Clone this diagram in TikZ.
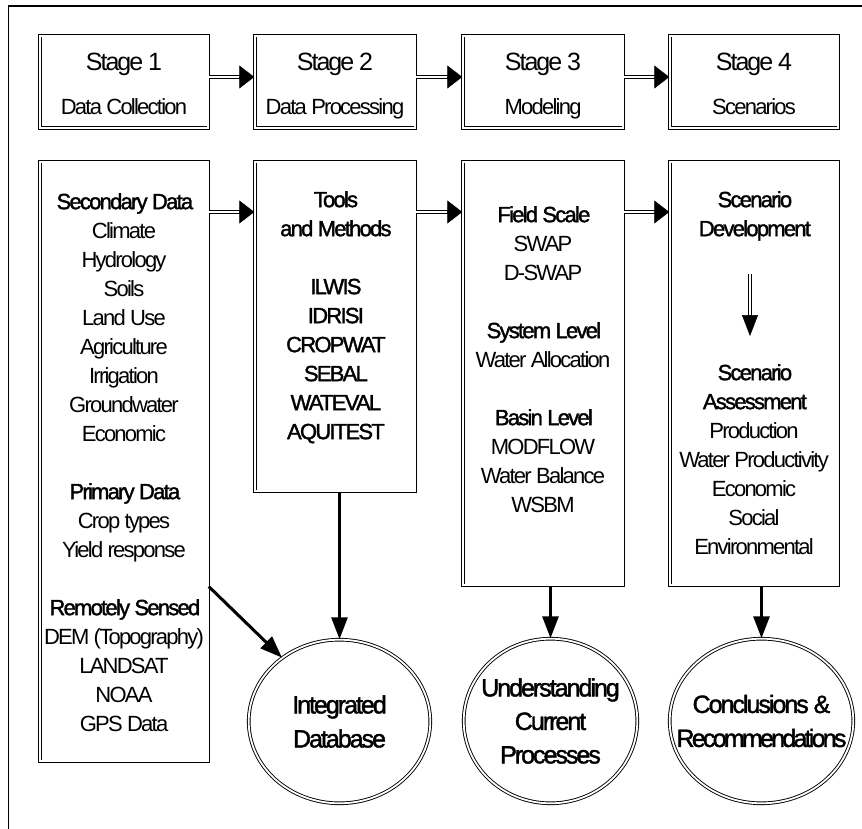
\documentclass[tikz,border=0pt]{standalone}
\usepackage{fontspec}
\setmainfont{Liberation Sans}[LetterSpace=-8, BoldFont={Liberation Sans}, BoldFeatures={FakeBold=1.6}]
\usetikzlibrary{shapes.geometric,arrows.meta,calc}
\begin{document}
\begin{tikzpicture}[x=1pt,y=-1pt,
  dbox/.style={draw, rectangle, double, double distance=1.8pt, line width=0.9pt, inner sep=0pt},
  ell/.style={draw, ellipse, double, double distance=1.8pt, line width=0.9pt, inner sep=0pt},
  stt/.style={anchor=base, inner sep=0pt, font=\fontsize{25}{30}\selectfont},
  sub/.style={anchor=base, inner sep=0pt, font=\fontsize{22}{26}\selectfont},
  btext/.style={anchor=north, align=center, inner sep=0pt, font=\fontsize{22}{29}\selectfont},
  etext/.style={align=center, inner sep=0pt, font=\bfseries\fontsize{25}{34}\selectfont},
  dshaft/.style={double, double distance=1.8pt, line width=0.9pt},
  dtip/.style={-{Triangle[length=15pt,width=23pt]}, line width=0.5pt},
  vtip/.style={-{Triangle[length=21pt,width=16pt]}, line width=0.5pt},
  tarrow/.style={line width=3pt, -{Triangle[length=22pt,width=16pt]}}
]
\useasboundingbox (0,0) rectangle (862,829);
% outer frame
\draw[line width=1.8pt] (862,6) -- (8.5,6) -- (8.5,829);

% stage boxes
\node[dbox, minimum width=168.6pt, minimum height=92.6pt] (s1) at (124,82) {};
\node[dbox, minimum width=160.6pt, minimum height=92.6pt] (s2) at (335,82) {};
\node[dbox, minimum width=160.6pt, minimum height=92.6pt] (s3) at (543,82) {};
\node[dbox, minimum width=168.6pt, minimum height=92.6pt] (s4) at (754,82) {};

\node[stt] (t1) at (124,71) {Stage 1};
\node[sub] (u1) at (124,115) {Data Collection};
\node[stt] (t2) at (335,71) {Stage 2};
\node[sub] (u2) at (335,115) {Data Processing};
\node[stt] (t3) at (543,71) {Stage 3};
\node[sub] (u3) at (543,115) {Modeling};
\node[stt] (t4) at (754,71) {Stage 4};
\node[sub] (u4) at (754,115) {Scenarios};

% lower boxes
\node[dbox, minimum width=168.6pt, minimum height=599.6pt] (b1) at (124,461.5) {};
\node[dbox, minimum width=160.6pt, minimum height=329.6pt] (b2) at (335,326.5) {};
\node[dbox, minimum width=160.6pt, minimum height=423.6pt] (b3) at (543,373.5) {};
\node[dbox, minimum width=168.6pt, minimum height=423.6pt] (b4) at (754,373.5) {};

\node[btext] (x1) at (124,193) {\textbf{Secondary Data}\\Climate\\Hydrology\\Soils\\Land Use\\Agriculture\\Irrigation\\Groundwater\\Economic\\[29pt]\textbf{Primary Data}\\Crop types\\Yield response\\[29pt]\textbf{Remotely Sensed}\\DEM (Topography)\\LANDSAT\\NOAA\\GPS Data};
\node[btext] (x2) at (335,191) {\textbf{Tools}\\\textbf{and Methods}\\[29pt]\textbf{ILWIS}\\\textbf{IDRISI}\\\textbf{CROPWAT}\\\textbf{SEBAL}\\\textbf{WATEVAL}\\\textbf{AQUITEST}};
\node[btext] (x3) at (543,206) {\textbf{Field Scale}\\SWAP\\D-SWAP\\[29pt]\textbf{System Level}\\Water Allocation\\[29pt]\textbf{Basin Level}\\MODFLOW\\Water Balance\\WSBM};
\node[btext] (dev) at (754,191) {\textbf{Scenario}\\\textbf{Development}};
\node[btext] (ass) at (754,364) {\textbf{Scenario}\\\textbf{Assessment}\\Production\\Water Productivity\\Economic\\Social\\Environmental};

% ellipses
\node[ell, minimum width=181.6pt, minimum height=163.6pt] (e1) at (339.5,721.5) {};
\node[ell, minimum width=173.6pt, minimum height=164.6pt] (e2) at (550.5,721) {};
\node[ell, minimum width=183.6pt, minimum height=164.6pt] (e3) at (761.5,721) {};
\node[etext] (et1) at (e1) {Integrated\\Database};
\node[etext, font=\bfseries\fontsize{25}{33.5}\selectfont] (et2) at (e2) {Understanding\\Current\\Processes};
\node[etext] (et3) at (e3) {Conclusions \&\\\addfontfeatures{LetterSpace=-11}Recommendations};

% double arrows
\coordinate (ra) at (0,77);
\coordinate (rb) at (0,212);
\foreach \a/\b in {s1/s2,s2/s3,s3/s4}{
  \draw[dshaft, shorten >=14pt] (\a.east |- ra) -- (\b.west |- ra);
  \draw[dtip] ($(\b.west |- ra)+(-3,0)$) -- (\b.west |- ra);
}
\foreach \a/\b in {b1/b2,b2/b3,b3/b4}{
  \draw[dshaft, shorten >=14pt] (\a.east |- rb) -- (\b.west |- rb);
  \draw[dtip] ($(\b.west |- rb)+(-3,0)$) -- (\b.west |- rb);
}
\coordinate (v1) at (750,274);
\coordinate (v2) at (750,336);
\draw[dshaft, shorten >=19pt] (v1) -- (v2);
\draw[vtip] ($(v2)+(0,-3)$) -- (v2);

% thick arrows
\draw[tarrow] (e1.north |- b2.south) -- (e1.north);
\draw[tarrow] (e2.north |- b3.south) -- (e2.north);
\draw[tarrow] (e3.north |- b4.south) -- (e3.north);
\draw[tarrow] ($(b1.east)+(0,125)$) -- (e1.132);
\end{tikzpicture}
\end{document}
